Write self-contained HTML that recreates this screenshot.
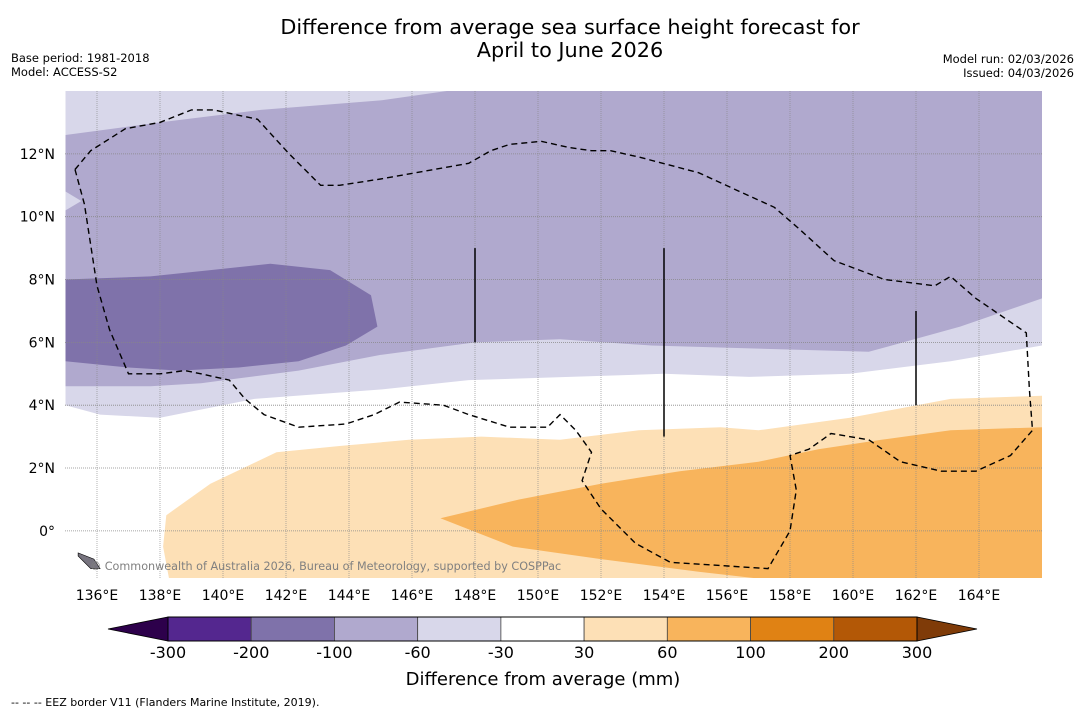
<!DOCTYPE html>
<html><head><meta charset="utf-8"><style>
body{margin:0;background:#fff;width:1085px;height:713px;overflow:hidden;font-family:"DejaVu Sans","Liberation Sans",sans-serif;}
svg{position:absolute;left:0;top:0}
</style></head><body>
<svg id="chart" width="1085" height="713" viewBox="0 0 1085 713" xmlns="http://www.w3.org/2000/svg" font-family="DejaVu Sans, Liberation Sans, sans-serif">
<text x="570" y="34" font-size="20.8" text-anchor="middle">Difference from average sea surface height forecast for</text>
<text x="570" y="57" font-size="20.8" text-anchor="middle">April to June 2026</text>
<text x="11" y="62" font-size="11.5">Base period: 1981-2018</text>
<text x="11" y="76" font-size="11.5">Model: ACCESS-S2</text>
<text x="1074" y="63" font-size="11.5" text-anchor="end">Model run: 02/03/2026</text>
<text x="1074" y="77" font-size="11.5" text-anchor="end">Issued: 04/03/2026</text>
<defs><clipPath id="mapclip"><rect x="65" y="91" width="977" height="487"/></clipPath></defs>
<g id="map" clip-path="url(#mapclip)"></g>
<g id="axes"></g>
<g id="cbar"></g>
<text x="543" y="685" font-size="18" text-anchor="middle">Difference from average (mm)</text>
<text x="11" y="706" font-size="11">--  --  -- EEZ border V11 (Flanders Marine Institute, 2019).</text>
</svg>
<script>
const NS='http://www.w3.org/2000/svg';
// map extent
const lonMin=135, lonMax=166, latMin=-1.5, latMax=14;
const lonTicks=[136,138,140,142,144,146,148,150,152,154,156,158,160,162,164];
const latTicks=[0,2,4,6,8,10,12];
// colorbar data
const levels=[-300,-200,-100,-60,-30,30,60,100,200,300];
const levelColors=['#54278f','#7f72aa','#b0a9ce','#d8d7ea','#ffffff','#fde0b6','#f8b45c','#e08214','#b35806'];
const extLow='#2d004b', extHigh='#7f3b08';
// contour regions [lon,lat]
const lightPurple=[[135,14],[166,14],[166,5.9],[163.1,5.4],[159.9,5.0],[156.7,4.9],[154.0,5.0],[151.0,4.9],[147.8,4.8],[145.0,4.5],[141.0,4.2],[138.0,3.6],[136.1,3.7],[135,4.0]];
const midPurple=[[135,12.6],[138,13.0],[141.2,13.4],[145,13.7],[147.8,14.1],[166,14.1],[166,7.4],[163.4,6.5],[160.5,5.7],[157,5.8],[153.6,5.9],[150.7,6.1],[148,6.0],[145,5.6],[142.4,5.1],[139.3,4.7],[137.7,4.6],[135,4.6]];
const lightWedge=[[135,10.8],[135.5,10.5],[135,10.2]];
const darkPurple=[[135,8.0],[137.7,8.1],[139.6,8.3],[141.5,8.5],[143.4,8.3],[144.7,7.5],[144.9,6.5],[143.9,5.9],[142.4,5.4],[140.5,5.2],[138.6,5.1],[137.0,5.2],[135,5.4]];
const lightOrange=[[138.2,0.5],[139.6,1.5],[141.7,2.5],[143.7,2.7],[145.9,2.9],[148.2,3.0],[150.7,2.9],[153.2,3.2],[155.8,3.3],[157,3.2],[159.9,3.6],[163.1,4.2],[166,4.3],[166,-1.6],[138.3,-1.6],[138.1,-0.5]];
const midOrange=[[146.9,0.4],[149.4,1.0],[152.0,1.5],[154.5,1.9],[157.0,2.2],[158.9,2.6],[160.9,2.9],[163.1,3.2],[166,3.3],[166,-1.6],[157.7,-1.6],[155.1,-1.3],[152.0,-0.9],[149.2,-0.5]];
const eez=[[135.3,11.5],[135.8,12.1],[136.9,12.8],[138,13.0],[139,13.4],[139.7,13.4],[141.1,13.1],[142.1,12.0],[143.1,11.0],[143.7,11.0],[145,11.2],[147.8,11.7],[148.5,12.1],[149.1,12.3],[150.1,12.4],[151.0,12.2],[151.7,12.1],[152.3,12.1],[153.2,11.9],[155.1,11.4],[156.4,10.8],[157.5,10.3],[158.3,9.6],[159.4,8.6],[161.0,8.0],[162.6,7.8],[163.1,8.1],[163.9,7.4],[165.5,6.3],[165.6,4.5],[165.7,3.2],[165.0,2.4],[163.9,1.9],[162.8,1.9],[161.5,2.2],[160.5,2.9],[159.3,3.1],[158.6,2.6],[158.0,2.4],[158.2,1.3],[158.0,0.0],[157.3,-1.2],[154.2,-1.0],[153.1,-0.4],[152.0,0.7],[151.4,1.6],[151.7,2.5],[151.2,3.2],[150.7,3.7],[150.3,3.3],[149.1,3.3],[147.8,3.7],[147.0,4.0],[145.6,4.1],[144.8,3.7],[143.9,3.4],[142.4,3.3],[141.3,3.7],[140.7,4.2],[140.2,4.8],[139.3,5.0],[138.8,5.1],[138.0,5.0],[137.0,5.0],[136.4,6.4],[136.0,7.8],[135.8,9.1],[135.6,10.4],[135.3,11.5]];
const vlines=[[148,9.0,6.0],[154,9.0,3.0],[162,7.0,4.0]];
const island=[[135.4,-0.7],[135.9,-0.9],[136.1,-1.2],[135.8,-1.2],[135.4,-0.8]];

const X0=65.5,Y0=91,W=976.5,H=487;
function px(lon){return X0+(lon-lonMin)/(lonMax-lonMin)*W;}
function py(lat){return Y0+(latMax-lat)/(latMax-latMin)*H;}
function pathOf(pts,close){return pts.map((p,i)=>(i?'L':'M')+px(p[0]).toFixed(1)+','+py(p[1]).toFixed(1)).join('')+(close?'Z':'');}
function mk(tag,attrs,parent){const e=document.createElementNS(NS,tag);for(const k in attrs)e.setAttribute(k,attrs[k]);parent.appendChild(e);return e;}

const map=document.getElementById('map');
let e=mk('rect',{x:65,y:91,width:977,height:487,fill:'#ffffff'},map);


const regions=[[lightPurple,'#d8d7ea','region-minus30-to-minus60'],[midPurple,'#b0a9ce','region-minus60-to-minus100'],[lightWedge,'#d8d7ea','region-minus30-wedge'],[darkPurple,'#7f72aa','region-minus100-to-minus200'],[lightOrange,'#fde0b6','region-30-to-60'],[midOrange,'#f8b45c','region-60-to-100']];
regions.forEach(r=>{
  const p=mk('path',{d:pathOf(r[0],true),fill:r[1]},map);
  
  
});
lonTicks.forEach(l=>{
  const g=mk('line',{x1:px(l),x2:px(l),y1:91,y2:578,stroke:'#888','stroke-width':0.8,'stroke-dasharray':'1,1','stroke-opacity':0.8},map);
  
  
});
latTicks.forEach(l=>{
  const g=mk('line',{x1:65,x2:1042,y1:py(l),y2:py(l),stroke:'#888','stroke-width':0.8,'stroke-dasharray':'1,1'},map);
  
  
});
e=mk('path',{d:pathOf(eez,false),fill:'none',stroke:'#000','stroke-width':1.4,'stroke-dasharray':'6,4'},map);


vlines.forEach(v=>{
  const l=mk('line',{x1:px(v[0]),x2:px(v[0]),y1:py(v[1]),y2:py(v[2]),stroke:'#000','stroke-width':1.5},map);
  
  
});
e=mk('path',{d:pathOf(island,true),fill:'#77747f',stroke:'#000','stroke-width':0.6},map);


e=mk('text',{x:90,y:570,'font-size':11.2,fill:'#808080'},map);
e.textContent='© Commonwealth of Australia 2026, Bureau of Meteorology, supported by COSPPac';



const axes=document.getElementById('axes');
lonTicks.forEach(l=>{
  const t=mk('text',{x:px(l),y:600,'font-size':14,'text-anchor':'middle'},axes);
  t.textContent=l+'°E';
  
  
});
latTicks.forEach(l=>{
  const t=mk('text',{x:55,y:py(l)+5,'font-size':14,'text-anchor':'end'},axes);
  t.textContent=l===0?'0°':l+'°N';
  
  
});

const cb=document.getElementById('cbar');
const cx0=168,cx1=917,cy=617,ch=24;
const bw=(cx1-cx0)/levelColors.length;
e=mk('polygon',{points:`${cx0},${cy} ${cx0},${cy+ch} 108,${cy+ch/2}`,fill:extLow,stroke:'#000','stroke-width':0.8},cb);


e=mk('polygon',{points:`${cx1},${cy} ${cx1},${cy+ch} 977,${cy+ch/2}`,fill:extHigh,stroke:'#000','stroke-width':0.8},cb);


levelColors.forEach((c,i)=>{
  const r=mk('rect',{x:cx0+i*bw,y:cy,width:bw,height:ch,fill:c,stroke:'#444','stroke-width':0.8},cb);
  
  
});
e=mk('rect',{x:cx0,y:cy,width:cx1-cx0,height:ch,fill:'none',stroke:'#000','stroke-width':1},cb);


levels.forEach((v,i)=>{
  const t=mk('text',{x:cx0+i*bw,y:658,'font-size':16,'text-anchor':'middle'},cb);
  t.textContent=v;
  
  
});
</script>
</body></html>
